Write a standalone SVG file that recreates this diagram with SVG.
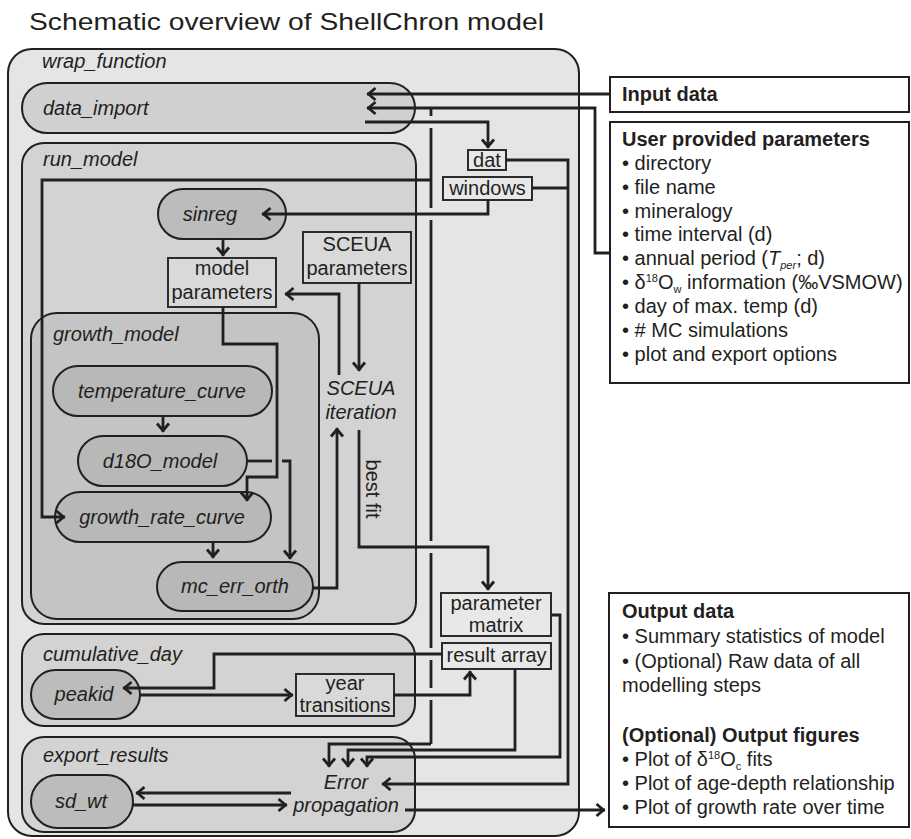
<svg xmlns="http://www.w3.org/2000/svg" width="911" height="839" viewBox="0 0 911 839">
<style>
text{font-family:"Liberation Sans",Arial,sans-serif;fill:#231f20}
.t{font-size:24px}
.it{font-size:20px;font-style:italic}
.n{font-size:20px}
.b{font-size:20px;font-weight:bold}
.r{font-size:20px}
.cont{stroke:#231f20;stroke-width:2}
.pill{stroke:#231f20;stroke-width:2}
.box{stroke:#2b2b2b;stroke-width:2}
.side{fill:#fff;stroke:#231f20;stroke-width:2}
.c{fill:none;stroke:#231f20;stroke-width:2.8;stroke-linejoin:miter}
.a{marker-end:url(#ah)}
.sub{font-size:11px}
</style>
<defs>
<marker id="ah" markerUnits="userSpaceOnUse" markerWidth="20" markerHeight="20" viewBox="-12 -10 16 20" refX="1.5" refY="0" orient="auto" overflow="visible">
<path d="M-7,-6 L0,0 L-7,6" fill="none" stroke="#231f20" stroke-width="2.8"/>
</marker>
</defs>
<rect width="911" height="839" fill="#fff"/>
<text class="t" x="29" y="30" textLength="515" lengthAdjust="spacingAndGlyphs">Schematic overview of ShellChron model</text>

<g id="wrap_function">
<rect class="cont" x="8" y="49" width="571" height="787" rx="24" fill="#e5e5e5"/>
<text class="it" x="42" y="68">wrap_function</text>
</g>
<g id="data_import">
<rect class="pill" x="22" y="83" width="393" height="50" rx="25" fill="#d0d0d0"/>
<text class="it" x="43" y="115">data_import</text>
</g>
<g id="run_model">
<rect class="cont" x="22" y="143" width="394" height="481" rx="22" fill="#d3d3d3"/>
<text class="it" x="43" y="166">run_model</text>
</g>
<g id="growth_model">
<rect class="cont" x="31" y="313" width="288" height="306" rx="26" fill="#c4c4c4"/>
<text class="it" x="53" y="341">growth_model</text>
</g>
<g id="cumulative_day">
<rect class="cont" x="22" y="634" width="393" height="92" rx="22" fill="#d3d3d3"/>
<text class="it" x="43" y="661">cumulative_day</text>
</g>
<g id="export_results">
<rect class="cont" x="22" y="737" width="393" height="95" rx="22" fill="#d3d3d3"/>
<text class="it" x="43" y="762">export_results</text>
</g>

<g id="sinreg">
<rect class="pill" x="158" y="189" width="128" height="50" rx="25" fill="#bcbcbc"/>
<text class="it" x="210" y="221" text-anchor="middle">sinreg</text>
</g>
<g id="model_parameters">
<rect class="box" x="168" y="258" width="108" height="49" fill="#d9d9d9"/>
<text class="n" x="222" y="275" text-anchor="middle">model</text>
<text class="n" x="222" y="299" text-anchor="middle">parameters</text>
</g>
<g id="sceua_parameters">
<rect class="box" x="303" y="232" width="108" height="51" fill="#d9d9d9"/>
<text class="n" x="357" y="251" text-anchor="middle">SCEUA</text>
<text class="n" x="357" y="275" text-anchor="middle">parameters</text>
</g>
<g id="sceua_iteration">
<text class="it" x="361" y="395" text-anchor="middle">SCEUA</text>
<text class="it" x="361" y="419" text-anchor="middle">iteration</text>
</g>
<g id="temperature_curve">
<rect class="pill" x="53" y="366" width="219" height="50" rx="25" fill="#b8b8b8"/>
<text class="it" x="162" y="398" text-anchor="middle">temperature_curve</text>
</g>
<g id="d18O_model">
<rect class="pill" x="78" y="436" width="169" height="50" rx="25" fill="#b8b8b8"/>
<text class="it" x="160" y="468" text-anchor="middle">d18O_model</text>
</g>
<g id="growth_rate_curve">
<rect class="pill" x="55" y="492" width="216" height="50" rx="25" fill="#b8b8b8"/>
<text class="it" x="162" y="524" text-anchor="middle">growth_rate_curve</text>
</g>
<g id="mc_err_orth">
<rect class="pill" x="157" y="562" width="156" height="49" rx="24.5" fill="#b8b8b8"/>
<text class="it" x="235" y="593" text-anchor="middle">mc_err_orth</text>
</g>

<g id="dat">
<rect class="box" x="468" y="150" width="38" height="20" fill="#e8e8e8"/>
<text class="n" x="487" y="167" text-anchor="middle">dat</text>
</g>
<g id="windows">
<rect class="box" x="443" y="177" width="89" height="23" fill="#e8e8e8"/>
<text class="n" x="487.5" y="195" text-anchor="middle">windows</text>
</g>
<g id="parameter_matrix">
<rect class="box" x="441" y="593" width="110" height="43" fill="#e8e8e8"/>
<text class="n" x="496" y="610" text-anchor="middle">parameter</text>
<text class="n" x="496" y="632" text-anchor="middle">matrix</text>
</g>
<g id="result_array">
<rect class="box" x="442" y="643" width="109" height="26" fill="#e8e8e8"/>
<text class="n" x="496.5" y="662" text-anchor="middle">result array</text>
</g>
<g id="peakid">
<rect class="pill" x="31" y="670" width="109" height="49" rx="24.5" fill="#bcbcbc"/>
<text class="it" x="84" y="701" text-anchor="middle">peakid</text>
</g>
<g id="year_transitions">
<rect class="box" x="296" y="674" width="98" height="42" fill="#d9d9d9"/>
<text class="n" x="345" y="690" text-anchor="middle">year</text>
<text class="n" x="345" y="712" text-anchor="middle">transitions</text>
</g>
<g id="sd_wt">
<rect class="pill" x="31" y="775" width="102" height="53" rx="26.5" fill="#bcbcbc"/>
<text class="it" x="81" y="808" text-anchor="middle">sd_wt</text>
</g>
<g id="error_propagation">
<text class="it" x="346" y="789" text-anchor="middle">Error</text>
<text class="it" x="346" y="812" text-anchor="middle">propagation</text>
</g>

<g id="input_data">
<rect class="side" x="610" y="77" width="299" height="35"/>
<text class="b" x="622" y="101">Input data</text>
</g>
<g id="user_parameters">
<rect class="side" x="610" y="122" width="299" height="261"/>
<text class="b" x="622" y="146">User provided parameters</text>
<text class="r" x="622" y="170">• directory</text>
<text class="r" x="622" y="194">• file name</text>
<text class="r" x="622" y="218">• mineralogy</text>
<text class="r" x="622" y="241">• time interval (d)</text>
<text class="r" x="622" y="265">• annual period (<tspan font-style="italic">T</tspan><tspan class="sub" font-style="italic" dy="4">per</tspan><tspan dy="-4">; d)</tspan></text>
<text class="r" x="622" y="289">• δ<tspan class="sub" dy="-7">18</tspan><tspan dy="7">O</tspan><tspan class="sub" dy="4">w</tspan><tspan dy="-4"> information (‰VSMOW)</tspan></text>
<text class="r" x="622" y="313">• day of max. temp (d)</text>
<text class="r" x="622" y="337">• # MC simulations</text>
<text class="r" x="622" y="361">• plot and export options</text>
</g>
<g id="output_data">
<rect class="side" x="609" y="593" width="300" height="234"/>
<text class="b" x="622" y="618">Output data</text>
<text class="r" x="622" y="643">• Summary statistics of model</text>
<text class="r" x="622" y="668">• (Optional) Raw data of all</text>
<text class="r" x="622" y="692">modelling steps</text>
<text class="b" x="622" y="742">(Optional) Output figures</text>
<text class="r" x="622" y="766">• Plot of δ<tspan class="sub" dy="-7">18</tspan><tspan dy="7">O</tspan><tspan class="sub" dy="4">c</tspan><tspan dy="-4"> fits</tspan></text>
<text class="r" x="622" y="790">• Plot of age-depth relationship</text>
<text class="r" x="622" y="814">• Plot of growth rate over time</text>
</g>

<g id="connectors">
<path class="c a" d="M610,94 H367"/>
<path class="c a" d="M610,253 H595 V108 H367"/>
<path class="c a" d="M365,122 H488 V148"/>
<path class="c a" d="M506,160 H568 V784 H382"/>
<path class="c" d="M532,188 H568"/>
<path class="c a" d="M488,200 V214 H262"/>
<path class="c" d="M431,108 V116 M431,128 V208 M431,220 V541 M431,553 V648 M431,660 V688 M431,700 V744"/>
<path class="c a" d="M431,744 H329 V767"/>
<path class="c a" d="M431,180 H42 V517 H65"/>
<path class="c a" d="M223,239 V256"/>
<path class="c a" d="M223,307 V344 H277 V477 H247 V501"/>
<path class="c a" d="M339,375 V294 H285"/>
<path class="c a" d="M359,283 V371"/>
<path class="c a" d="M163,416 V432"/>
<path class="c" d="M247,461 H272"/>
<path class="c a" d="M282,461 H290 V559"/>
<path class="c a" d="M213,542 V558"/>
<path class="c a" d="M313,588 H337 V428"/>
<path class="c a" d="M359,430 V547 H488 V590"/>
<path class="c a" d="M442,654 H214 V688 H123"/>
<path class="c a" d="M140,695 H293"/>
<path class="c a" d="M394,695 H470 V671"/>
<path class="c a" d="M515,669 V750 H348 V767"/>
<path class="c a" d="M551,615 H560 V757 H367 V767"/>
<path class="c a" d="M291,793 H136"/>
<path class="c a" d="M133,805 H287"/>
<path class="c a" d="M405,810 H605"/>
<text class="n" transform="translate(366,489) rotate(90)" text-anchor="middle">best fit</text>
</g>
</svg>
